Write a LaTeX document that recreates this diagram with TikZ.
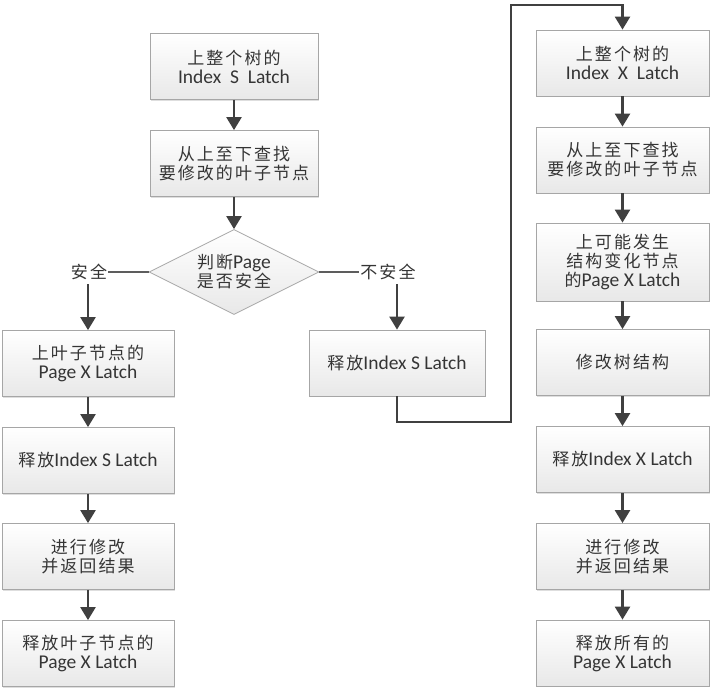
\documentclass[tikz,border=0pt]{standalone}
\usepackage{fontspec}
\setmainfont{Carlito}
\newfontfamily\cjk[LetterSpace=12]{Noto Sans CJK SC}
\newcommand{\cj}[1]{{\fontsize{17}{18}\selectfont\cjk #1}}
\usetikzlibrary{shapes.geometric,arrows.meta,shadows}
\definecolor{lc}{HTML}{404040}
\definecolor{bd}{HTML}{A6A6A6}
\definecolor{tx}{HTML}{353535}
\begin{document}
\begin{tikzpicture}[x=1pt,y=-1pt,
  stepbox/.style={draw=bd,line width=0.8pt,top color=white,bottom color=black!9,
    drop shadow={shadow xshift=1.2pt,shadow yshift=-1.2pt,fill=black!25,opacity=0.5},
    inner sep=0pt,minimum height=66pt,align=center,text=tx,
    font=\fontsize{19.5}{19}\selectfont},
  decide/.style={diamond,draw=bd,line width=0.8pt,top color=white,bottom color=black!9,
    inner sep=0pt,minimum width=170pt,minimum height=85pt,aspect=2,align=center,text=tx,
    font=\fontsize{19.5}{19}\selectfont},
  lbl/.style={inner sep=1pt,text=tx},
  arr/.style={draw=lc,line width=2.4pt,-{Triangle[width=15pt,length=13pt]}},
  ln/.style={draw=lc!85,line width=2pt}]
\useasboundingbox (0,0) rectangle (711,696);
\fill[white] (0,0) rectangle (711,696);
% left/top column
\node[stepbox,minimum width=168pt] (T1) at (234,66.5) {\cj{上整个树的}\\Index\ \ S\ \ Latch};
\node[stepbox,minimum width=168pt] (T2) at (234,163.5) {\cj{从上至下查找}\\\cj{要修改的叶子节点}};
\node[decide] (D) at (234,272) {\cj{判断}Page\\\cj{是否安全}};
\node[lbl] (S) at (89,272) {\cj{安全}};
\node[lbl] (U) at (388,272) {\cj{不安全}};
\node[stepbox,minimum width=172pt] (L1) at (88,363.5) {\cj{上叶子节点的}\\Page X Latch};
\node[stepbox,minimum width=172pt] (L2) at (88,460.5) {\cj{释放}Index S Latch};
\node[stepbox,minimum width=172pt] (L3) at (88,556.5) {\cj{进行修改}\\\cj{并返回结果}};
\node[stepbox,minimum width=172pt] (L4) at (88,653.5) {\cj{释放叶子节点的}\\Page X Latch};
% middle
\node[stepbox,minimum width=176pt] (M1) at (397,363) {\cj{释放}Index S Latch};
% right column
\node[stepbox,minimum width=173pt] (R1) at (622.5,63) {\cj{上整个树的}\\Index\ \ X\ \ Latch};
\node[stepbox,minimum width=173pt] (R2) at (622.5,160) {\cj{从上至下查找}\\\cj{要修改的叶子节点}};
\node[stepbox,minimum width=173pt,minimum height=78pt] (R3) at (622.5,262) {\cj{上可能发生}\\\cj{结构变化节点}\\\cj{的}Page X Latch};
\node[stepbox,minimum width=173pt] (R4) at (622.5,362.5) {\cj{修改树结构}};
\node[stepbox,minimum width=173pt] (R5) at (622.5,459.5) {\cj{释放}Index X Latch};
\node[stepbox,minimum width=173pt] (R6) at (622.5,556.5) {\cj{进行修改}\\\cj{并返回结果}};
\node[stepbox,minimum width=173pt] (R7) at (622.5,653) {\cj{释放所有的}\\Page X Latch};
\coordinate (turnA) at (511,422);
\coordinate (turnB) at (511,5);
% connectors
\draw[arr] (T1) -- (T2);
\draw[arr] (T2) -- (D);
\draw[ln] (D.west) -- (S.east);
\draw[ln] (D.east) -- (U.west);
\draw[arr,shorten <=3pt] (S.south -| L1.north) -- (L1.north);
\draw[arr,shorten <=3pt] (U.south -| M1.north) -- (M1.north);
\draw[arr] (L1) -- (L2);
\draw[arr] (L2) -- (L3);
\draw[arr] (L3) -- (L4);
\draw[arr] (M1.south) |- (turnA) -- (turnB) -| (R1.north);
\draw[arr] (R1) -- (R2);
\draw[arr] (R2) -- (R3);
\draw[arr] (R3) -- (R4);
\draw[arr] (R4) -- (R5);
\draw[arr] (R5) -- (R6);
\draw[arr] (R6) -- (R7);
\end{tikzpicture}
\end{document}
